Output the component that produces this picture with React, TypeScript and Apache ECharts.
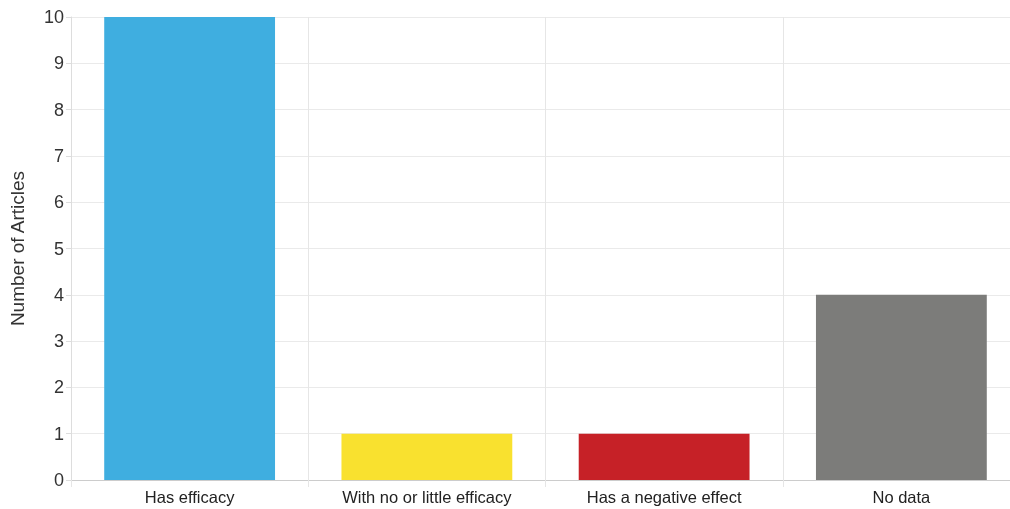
import React, { useEffect, useRef } from "react";
import * as echarts from "echarts";

const categories = ["Has efficacy", "With no or little efficacy", "Has a negative effect", "No data"];
const values = [10, 1, 1, 4];
const colors = ["#3FAEE0", "#F9E12F", "#C62127", "#7C7C7A"];
const yTicks = { min: 0, max: 10, interval: 1 };

export default function App() {
  const ref = useRef<HTMLDivElement>(null);
  useEffect(() => {
    const chart = echarts.init(ref.current!, undefined, { renderer: "svg" });
    chart.setOption({
      animation: false,
      grid: { left: 71, width: 949, top: 17, height: 463, containLabel: false, outerBoundsMode: "none" },
      xAxis: {
        type: "category",
        data: categories,
        axisLine: { show: true, lineStyle: { color: "#cccccc", width: 1 } },
        axisTick: { show: true, length: 7, lineStyle: { color: "#e6e6e6" } },
        splitLine: { show: true, lineStyle: { color: "#e6e6e6" } },
        axisLabel: { color: "#222", fontSize: 16.5, fontFamily: "Arial, Liberation Sans", margin: 8 },
      },
      yAxis: {
        type: "value",
        min: yTicks.min,
        max: yTicks.max,
        interval: yTicks.interval,
        name: "Number of Articles",
        nameLocation: "middle",
        nameGap: 44,
        nameTextStyle: { color: "#333", fontSize: 19, fontFamily: "Arial, Liberation Sans" },
        axisLine: { show: true, lineStyle: { color: "#dddddd" } },
        axisTick: { show: true, length: 5, lineStyle: { color: "#dddddd" } },
        splitLine: { show: true, lineStyle: { color: "#eaeaea" } },
        axisLabel: { color: "#333", fontSize: 18, fontFamily: "Arial, Liberation Sans", margin: 7 },
      },
      series: [
        {
          type: "bar",
          data: values.map((v, i) => ({ value: v, itemStyle: { color: colors[i] } })),
          barCategoryGap: "28%",
        },
      ],
    });
    return () => chart.dispose();
  }, []);
  return <div ref={ref} style={{ position: "fixed", left: 0, top: 0, width: 1010, height: 509 }} />;
}
